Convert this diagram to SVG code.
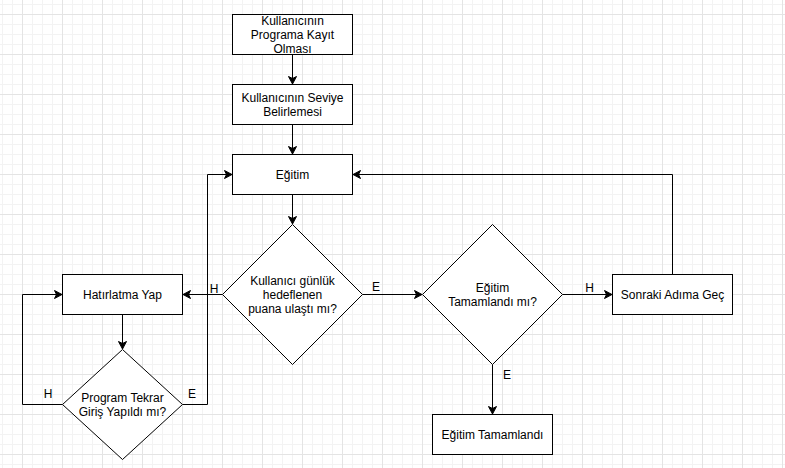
<svg xmlns="http://www.w3.org/2000/svg" width="785" height="468" viewBox="0 0 785 468">
  <defs>
    <!-- background grid: minor 10px, major 40px -->
    <pattern id="grid" patternUnits="userSpaceOnUse" x="22" y="14" width="40" height="40">
      <path d="M10.5 0V40M20.5 0V40M30.5 0V40M0 10.5H40M0 20.5H40M0 30.5H40" stroke="#f3f3f3" stroke-width="1" fill="none"/>
      <path d="M0.5 0V40M0 0.5H40" stroke="#e4e4e4" stroke-width="1" fill="none"/>
    </pattern>
    <marker id="arrow" viewBox="-8 -5 10 10" refX="0" refY="0" markerWidth="10" markerHeight="10" markerUnits="userSpaceOnUse" orient="auto">
      <path d="M0 0L-7.5 -4L-5.5 0L-7.5 4Z" fill="#000" stroke="#000" stroke-width="1" stroke-linejoin="miter"/>
    </marker>
  </defs>
  <style>
    .shape { fill: #fff; stroke: #000; stroke-width: 1; }
    .txt { font-family: "Liberation Sans", Arial, sans-serif; font-size: 12px; fill: #000; text-anchor: middle; }
    .edge { fill: none; stroke: #000; stroke-width: 1; }
    .lbl { font-family: "Liberation Sans", Arial, sans-serif; font-size: 12px; fill: #000; text-anchor: middle; }
  </style>

  <rect width="785" height="468" fill="#fff"/>
  <rect width="785" height="468" fill="url(#grid)"/>

  <g id="connectors">
    <path class="edge" d="M292.5 54.5V84" marker-end="url(#arrow)"/>
    <path class="edge" d="M292.5 124.5V154" marker-end="url(#arrow)"/>
    <path class="edge" d="M292.5 194.5V224" marker-end="url(#arrow)"/>
    <path class="edge" d="M362.5 294.5H422" marker-end="url(#arrow)"/>
    <path class="edge" d="M222.5 294.5H183" marker-end="url(#arrow)"/>
    <path class="edge" d="M562.5 294.5H612" marker-end="url(#arrow)"/>
    <path class="edge" d="M492.5 364.5V414" marker-end="url(#arrow)"/>
    <path class="edge" d="M672.5 274.5V174.5H353" marker-end="url(#arrow)"/>
    <path class="edge" d="M122.5 314.5V349" marker-end="url(#arrow)"/>
    <path class="edge" d="M62.5 404.5H22.5V294.5H62" marker-end="url(#arrow)"/>
    <path class="edge" d="M182.5 404.5H207.5V174.5H232" marker-end="url(#arrow)"/>
    <text class="lbl" x="214" y="293">H</text>
    <text class="lbl" x="376" y="291">E</text>
    <text class="lbl" x="589.5" y="292">H</text>
    <text class="lbl" x="507" y="379">E</text>
    <text class="lbl" x="48" y="398">H</text>
    <text class="lbl" x="192" y="398">E</text>
  </g>

  <g id="kayit">
    <rect class="shape" x="232.5" y="14.5" width="120" height="40"/>
    <text class="txt" x="292.5" y="25">Kullanıcının</text>
    <text class="txt" x="292.5" y="39">Programa Kayıt</text>
    <text class="txt" x="292.5" y="53">Olması</text>
  </g>

  <g id="seviye">
    <rect class="shape" x="232.5" y="84.5" width="120" height="40"/>
    <text class="txt" x="292.5" y="102">Kullanıcının Seviye</text>
    <text class="txt" x="292.5" y="116">Belirlemesi</text>
  </g>

  <g id="egitim">
    <rect class="shape" x="232.5" y="154.5" width="120" height="40"/>
    <text class="txt" x="292.5" y="178.5">Eğitim</text>
  </g>

  <g id="hedef">
    <path class="shape" d="M292.5 224.5L362.5 294.5L292.5 364.5L222.5 294.5Z"/>
    <text class="txt" x="292.5" y="285">Kullanıcı günlük</text>
    <text class="txt" x="292.5" y="299">hedeflenen</text>
    <text class="txt" x="292.5" y="313">puana ulaştı mı?</text>
  </g>

  <g id="tamamlandi-mi">
    <path class="shape" d="M492.5 224.5L562.5 294.5L492.5 364.5L422.5 294.5Z"/>
    <text class="txt" x="492.5" y="291.5">Eğitim</text>
    <text class="txt" x="492.5" y="305.5">Tamamlandı mı?</text>
  </g>

  <g id="sonraki">
    <rect class="shape" x="612.5" y="274.5" width="120" height="40"/>
    <text class="txt" x="672.5" y="298.5">Sonraki Adıma Geç</text>
  </g>

  <g id="tamamlandi">
    <rect class="shape" x="432.5" y="414.5" width="120" height="40"/>
    <text class="txt" x="492.5" y="438.5">Eğitim Tamamlandı</text>
  </g>

  <g id="hatirlatma">
    <rect class="shape" x="62.5" y="274.5" width="120" height="40"/>
    <text class="txt" x="122.5" y="298.5">Hatırlatma Yap</text>
  </g>

  <g id="tekrar-giris">
    <path class="shape" d="M122.5 349.5L182.5 404.5L122.5 459.5L62.5 404.5Z"/>
    <text class="txt" x="122.5" y="401.5">Program Tekrar</text>
    <text class="txt" x="122.5" y="415.5">Giriş Yapıldı mı?</text>
  </g>
</svg>
